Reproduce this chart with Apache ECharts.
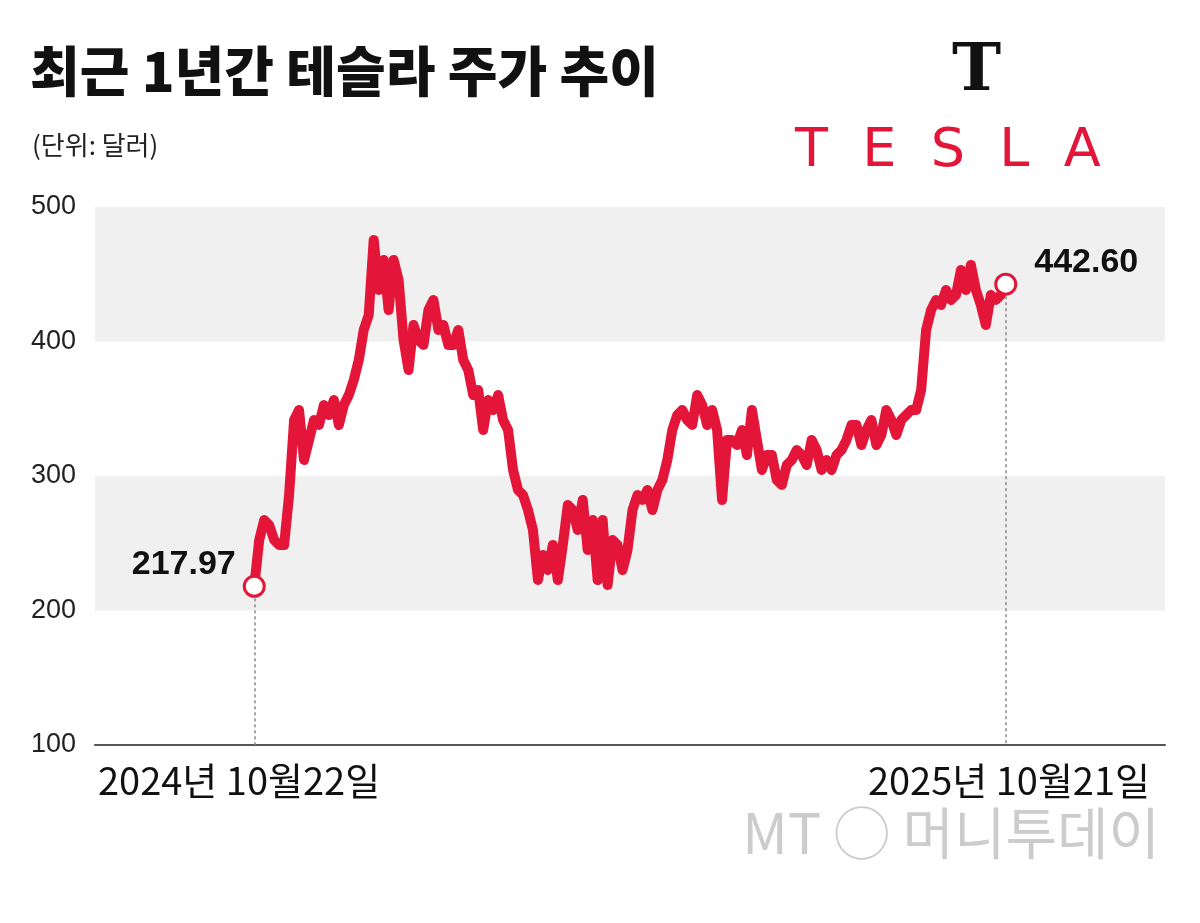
<!DOCTYPE html>
<html><head><meta charset="utf-8">
<script src="https://cdn.jsdelivr.net/npm/echarts@6/dist/echarts.min.js"></script>
<style>html,body{margin:0;background:#fff}#c{width:1200px;height:923px}</style>
</head><body><div id="c"></div>
<script>
const startLabel = '2024년 10월22일';
const endLabel = '2025년 10월21일';
const yTicks = [100, 200, 300, 400, 500];
const prices = [217.97,252.4,267.3,263.6,252.4,248.7,248.7,285.9,341.6,349.1,311.9,326.8,341.6,337.9,352.8,345.4,356.5,337.9,352.8,360.2,371.4,386.2,408.6,419.7,475.5,438.3,460.6,423.4,460.6,445.7,401.1,378.8,412.3,401.1,397.4,423.4,430.9,408.6,412.3,397.4,397.4,408.6,386.2,378.8,360.2,363.9,334.2,356.5,349.1,360.2,341.6,334.2,304.5,289.6,285.9,274.7,259.9,222.7,241.3,230.1,248.7,222.7,248.7,278.4,274.7,259.9,282.2,245.0,267.3,222.7,267.3,219.0,252.4,248.7,230.1,245.0,274.7,285.9,282.2,289.6,274.7,289.6,297.0,311.9,334.2,345.4,349.1,341.6,337.9,360.2,352.8,337.9,349.1,334.2,282.2,326.8,326.8,323.0,334.2,315.6,349.1,326.8,304.5,315.6,315.6,297.0,293.3,308.2,311.9,319.3,315.6,308.2,326.8,319.3,304.5,311.9,304.5,315.6,319.3,326.8,337.9,337.9,323.0,334.2,341.6,323.0,330.5,349.1,341.6,330.5,341.6,345.4,349.1,349.1,363.9,408.6,423.4,430.9,427.1,438.3,430.9,434.6,453.2,438.3,456.9,438.3,427.1,412.3,434.6,430.9,434.6,442.6];
const points = prices.map((v, i) => [i, v]);
const last = prices.length - 1;
const chart = echarts.init(document.getElementById('c'));
const font = '"Noto Sans CJK KR", "Noto Sans", sans-serif';
chart.setOption({
  animation: false,
  grid: {left: 95, right: 35, top: 207, bottom: 178},
  xAxis: {type: 'value', min: -32, max: last + 32, show: true,
    axisLine: {show: true, onZero: false, lineStyle: {color: '#555', width: 2}},
    axisTick: {show: false}, axisLabel: {show: false}, splitLine: {show: false}},
  yAxis: {type: 'value', min: 100, max: 500, interval: 100,
    axisLine: {show: false}, axisTick: {show: false}, splitLine: {show: false},
    axisLabel: {color: '#222', fontSize: 27, fontFamily: '"Liberation Sans Narrow", "Liberation Sans", Arial, sans-serif', margin: 64, align: 'left'}},
  series: [{
    type: 'line', data: points, showSymbol: false, smooth: false,
    lineStyle: {color: '#e3163a', width: 10, join: 'round'},
    markArea: {silent: true, itemStyle: {color: '#f0f0f0'},
      data: [[{yAxis: 400}, {yAxis: 500}], [{yAxis: 200}, {yAxis: 300}]]},
    markLine: {silent: true, symbol: 'none', label: {show: false},
      lineStyle: {color: '#888', type: [3, 3], width: 1.5},
      data: [[{coord: [0, prices[0]]}, {coord: [0, 100]}], [{coord: [last, prices[last]]}, {coord: [last, 100]}]]},
    markPoint: {silent: true, symbol: 'circle', symbolSize: 20,
      itemStyle: {color: '#fff', borderColor: '#e3163a', borderWidth: 3},
      label: {show: true, fontSize: 34, fontWeight: 'bold', color: '#111', fontFamily: '"Liberation Sans Narrow", "Liberation Sans", Arial, sans-serif'},
      data: [
        {coord: [0, prices[0]], value: prices[0].toFixed(2), label: {position: 'left', offset: [-2, -22]}},
        {coord: [last, prices[last]], value: prices[last].toFixed(2), label: {position: 'right', offset: [12, -22]}}
      ]}
  }],
  graphic: [
    {type: 'text', left: 30, top: 44, style: {text: '최근 1년간 테슬라 주가 추이', fill: '#111', font: '900 54px ' + font}},
    {type: 'text', left: 32, top: 132, style: {text: '(단위: 달러)', fill: '#222', font: '26px ' + font}},
    {type: 'text', left: 952, top: 40, style: {text: 'T', fill: '#111', font: 'bold 66px "DejaVu Serif", serif'}},
    {type: 'text', left: 795, top: 125, style: {text: 'T  E  S  L  A', fill: '#e3163a', font: '54px "DejaVu Sans", sans-serif'}},
    {type: 'text', left: 98, top: 762, style: {text: startLabel, fill: '#111', font: '38px ' + font}},
    {type: 'text', right: 50, top: 762, style: {text: endLabel, fill: '#111', font: '38px ' + font}},
    {type: 'text', right: 40, top: 805, style: {text: 'MT ◯ 머니투데이', fill: '#ccc', font: '56px ' + font}}
  ]
});
</script></body></html>
